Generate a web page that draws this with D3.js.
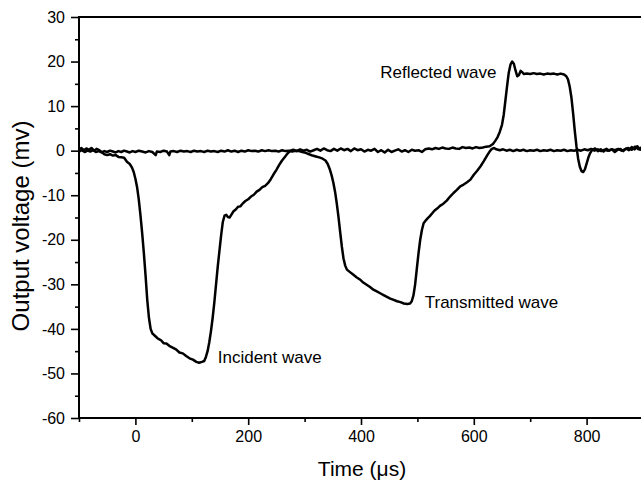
<!DOCTYPE html>
<html><head><meta charset="utf-8">
<script src="https://cdn.jsdelivr.net/npm/d3@7"></script>
<style>
body{margin:0;background:#fff}
svg{display:block}
text{font-family:"Liberation Sans",Arial,Helvetica,sans-serif;fill:#000}
</style>
</head><body>
<svg id="chart" width="641" height="484"></svg>
<script>
// Incident-bar gauge: incident wave then reflected wave (time in µs, voltage in mV)
const timeA = [-100,-96,-91,-87,-82,-78,-73,-69,-64,-60,-55,-50,-45,-40,-35,-30,-25,-20,-15,-10,-6,-3,0,3,6,9,12,15,18,21,24,27,30,35,40,45,50,55,60,66,72,78,84,90,96,102,108,113,118,122,125,128,131,134,137,140,143,146,149,152,155,158,161,164,167,170,174,178,182,186,190,195,200,205,210,215,220,225,230,235,240,245,250,255,260,265,270,275,
280,286,292,298,304,310,316,322,328,334,340,346,352,358,364,370,376,382,388,394,400,406,412,418,424,430,436,442,448,454,460,466,472,478,484,490,496,502,508,514,520,526,532,538,544,550,556,562,568,574,580,586,592,598,604,610,616,622,628,634,
638,642,646,650,653,656,659,662,665,668,671,674,677,680,683,686,689,694,700,706,712,718,724,730,736,742,748,754,760,764,767,770,773,776,779,782,785,788,791,794,797,800,803,806,810,
815,820,825,830,835,840,845,850,855,860,865,870,875,880,885,890,895,900];
const voltA = [0.3,0.6,0.1,0.5,0.2,0.6,0.0,0.4,0.1,-0.3,-0.8,-1.0,-0.8,-1.1,-1.0,-1.4,-1.5,-1.6,-2.5,-3.0,-3.8,-4.8,-6.3,-8.2,-11,-14.5,-18.5,-23,-28,-33.5,-37.5,-40,-41,-41.6,-42.2,-42.5,-43.2,-43.3,-43.8,-44.2,-44.6,-45.3,-45.5,-46.1,-46.6,-46.9,-47.4,-47.6,-47.4,-47.2,-46.3,-45,-43,-40.5,-37.5,-34,-30,-26,-22.5,-19,-16,-14.6,-14.4,-14.9,-15,-14.4,-13.6,-13.2,-12.6,-12.5,-11.9,-11.3,-10.9,-10.3,-9.9,-9.2,-8.8,-8.2,-7.9,-7.3,-6.4,-5.3,-4.3,-3.2,-2.2,-1.4,-0.6,0.0,
0.2,-0.1,0.3,0.0,0.2,-0.2,0.1,0.4,0.0,0.5,0.1,-0.1,0.4,0.0,0.5,0.1,0.4,-0.1,0.5,0.1,0.3,-0.2,0.2,0.0,0.4,-0.3,0.1,-0.4,0.2,-0.3,0.0,0.3,-0.2,0.1,-0.3,0.2,0.0,0.1,-0.3,0.3,0.5,0.3,0.6,0.4,0.7,0.5,0.4,0.7,0.5,0.4,0.8,0.6,0.7,0.5,0.8,0.6,0.7,0.9,1.0,1.5,
2.2,3.0,4.2,5.8,8.0,11.2,14.5,17.5,19.3,20.0,19.5,18.0,16.7,17.0,17.9,17.6,17.2,17.3,17.2,17.4,17.2,17.3,17.1,17.3,17.2,17.3,17.1,17.3,17.1,16.7,16.0,14.4,12.0,8.5,4.5,1.0,-1.8,-3.6,-4.6,-4.8,-4.2,-2.9,-1.6,-0.6,0.2,
0.5,-0.1,0.3,-0.2,0.4,0.0,0.3,-0.3,0.2,0.4,-0.1,0.5,0.1,0.8,0.3,1.0,0.2,0.6];

// Transmitted-bar gauge: transmitted wave
const timeB = [-100,-95,-90,-85,-80,-75,-70,-65,-60,-55,-50,-45,-40,-35,-30,-25,-20,-15,-10,-5,0,6,12,18,24,30,36,38,44,50,56,60,62,68,74,80,86,92,98,104,110,116,122,128,134,140,146,152,158,164,170,176,182,188,194,200,206,212,218,224,230,236,242,248,254,260,266,272,278,284,290,296,302,308,314,320,326,332,337,341,345,348,351,354,357,360,363,366,369,372,375,380,386,392,398,404,410,416,422,428,434,440,446,452,458,464,470,476,482,487,490,493,496,499,502,505,508,511,514,518,522,526,530,535,540,546,552,558,564,570,576,582,588,594,600,606,612,618,624,628,632,636,640,646,652,658,664,670,676,682,688,694,700,706,712,718,724,730,736,742,748,754,760,766,772,778,784,790,796,802,808,814,820,826,832,838,844,850,856,862,868,874,880,886,892,898,900];
const voltB = [-0.2,0.1,-0.3,0.0,-0.2,0.1,-0.3,-0.1,-0.4,-0.1,-0.3,0.0,-0.2,-0.4,-0.1,-0.3,0.0,-0.2,-0.4,-0.1,-0.3,0.0,-0.2,-0.4,-0.1,-0.3,-1.0,-0.2,-0.3,0.0,-0.2,-1.0,-0.2,-0.1,-0.3,0.0,-0.2,-0.1,-0.3,0.0,-0.2,-0.1,-0.3,0.0,-0.2,-0.1,-0.3,0.0,-0.2,0.1,-0.2,0.0,-0.3,0.0,-0.2,0.1,-0.1,0.0,-0.2,0.1,-0.1,0.1,-0.1,0.0,-0.2,0.1,-0.1,0.0,-0.2,0.0,-0.1,-0.3,-0.5,-0.8,-1.1,-1.3,-1.5,-1.8,-2.2,-3.0,-4.3,-5.6,-7.2,-9.2,-11.8,-14.8,-18.2,-21.5,-24.2,-25.8,-26.7,-27.2,-27.8,-28.4,-28.9,-29.6,-30.1,-30.6,-31.2,-31.6,-32.0,-32.4,-32.8,-33.2,-33.5,-33.8,-34.0,-34.3,-34.4,-34.3,-33.8,-32.5,-30.0,-26.5,-23.0,-20.0,-17.8,-16.3,-15.8,-15.2,-14.7,-14.1,-13.5,-13.0,-12.4,-11.9,-11.2,-10.3,-9.5,-8.8,-8.0,-7.6,-7.1,-6.5,-5.4,-4.5,-3.5,-2.3,-1.0,-0.2,0.4,0.6,0.3,0.1,0.3,0.0,0.2,-0.1,0.2,0.0,0.2,-0.1,0.1,0.0,0.2,-0.1,0.1,0.0,0.2,-0.1,0.1,0.0,0.2,-0.1,0.1,0.0,0.2,0.0,0.3,0.1,0.4,0.0,0.3,-0.1,0.2,0.0,0.3,0.1,0.4,0.0,0.3,0.6,0.2,0.9,0.3,0.8,0.4];

const xMajorTicks = [0,200,400,600,800];
const xMinorTicks = [-100,100,300,500,700,900];
const yMajorTicks = [30,20,10,0,-10,-20,-30,-40,-50,-60];
const yMinorTicks = [25,15,5,-5,-15,-25,-35,-45,-55];
const xDomain = [-100,900];
const yDomain = [-60,30];
const xTitle = "Time (\u03bcs)";
const yTitle = "Output voltage (mv)";
const labelText = ["Reflected wave","Incident wave","Transmitted wave"];
const labelTime = [434,146,513];
const labelVolt = [16.3,-47.6,-35.3];

const svg = d3.select("#chart");
const L = 79, R = 643, T = 17, B = 418;
const x = d3.scaleLinear().domain(xDomain).range([L, R]);
const y = d3.scaleLinear().domain(yDomain).range([B, T]);

svg.append("defs").append("clipPath").attr("id","clip")
  .append("rect").attr("x",L).attr("y",T-2).attr("width",R-L).attr("height",B-T+4);

const line = d3.line().x(d=>x(d[0])).y(d=>y(d[1]));
const seriesA = timeA.map((t,i)=>[t,voltA[i]]);
const seriesB = timeB.map((t,i)=>[t,voltB[i]]);

const g = svg.append("g").attr("clip-path","url(#clip)");
[seriesB, seriesA].forEach(s=>{
  g.append("path").datum(s).attr("d",line)
    .attr("fill","none").attr("stroke","#000").attr("stroke-width",2.5)
    .attr("stroke-linejoin","round").attr("stroke-linecap","round");
});

// axes
const fs = "16px";
const yAxis = svg.append("g").attr("transform",`translate(${L},0)`)
  .call(d3.axisLeft(y).tickValues(yMajorTicks).tickSize(8).tickPadding(6).tickFormat(d3.format("d")));
svg.append("g").attr("transform",`translate(${L},0)`)
  .call(d3.axisLeft(y).tickValues(yMinorTicks).tickSize(4).tickFormat(""));
const xAxis = svg.append("g").attr("transform",`translate(0,${B})`)
  .call(d3.axisBottom(x).tickValues(xMajorTicks).tickSize(7).tickPadding(6).tickFormat(d3.format("d")));
svg.append("g").attr("transform",`translate(0,${B})`)
  .call(d3.axisBottom(x).tickValues(xMinorTicks).tickSize(4).tickFormat(""));
svg.selectAll(".domain").remove();
svg.selectAll(".tick line").attr("stroke","#000").attr("stroke-width",1.6);
svg.selectAll(".tick text").style("font-size",fs).style("font-family",'"Liberation Sans",Arial,sans-serif').attr("fill","#000");
yAxis.selectAll(".tick text").text(d=>d<0?"-"+Math.abs(d):d);

// frame lines
svg.append("line").attr("x1",L).attr("x2",L).attr("y1",T-1).attr("y2",B+1).attr("stroke","#000").attr("stroke-width",2);
svg.append("line").attr("x1",L-1).attr("x2",641).attr("y1",B).attr("y2",B).attr("stroke","#000").attr("stroke-width",2);
svg.append("line").attr("x1",L-1).attr("x2",641).attr("y1",T).attr("y2",T).attr("stroke","#000").attr("stroke-width",2);

// titles
svg.append("text").attr("x",362).attr("y",476).attr("text-anchor","middle")
  .style("font-size","21px").text(xTitle);
svg.append("text").attr("transform","translate(29,226) rotate(-90)").attr("text-anchor","middle")
  .style("font-size","24px").text(yTitle);

// annotations
labelText.forEach((t,i)=>{
  svg.append("text").attr("x",x(labelTime[i])).attr("y",y(labelVolt[i]))
    .style("font-size","17px").text(t);
});
</script>
</body></html>
